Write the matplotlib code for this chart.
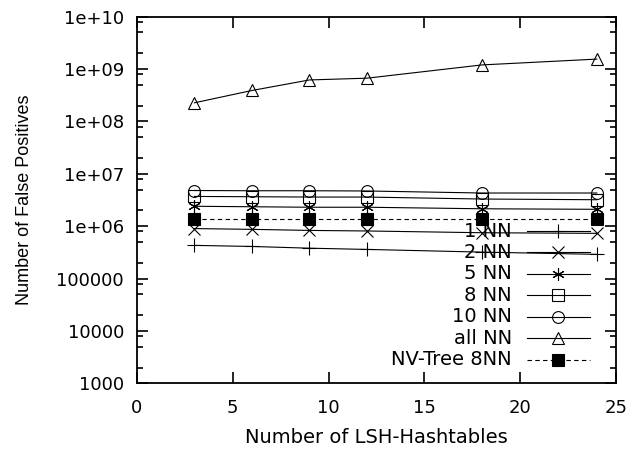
import matplotlib
matplotlib.use("Agg")
import matplotlib.pyplot as plt
from matplotlib.ticker import FixedLocator, LogLocator, NullFormatter, NullLocator

plt.rcParams['font.family'] = ['DejaVu Sans']

hashtables = [3, 6, 9, 12, 18, 24]
nn1 = [4.3e5, 4.1e5, 3.8e5, 3.6e5, 3.2e5, 2.9e5]
nn2 = [9.0e5, 8.7e5, 8.3e5, 8.1e5, 7.5e5, 7.3e5]
nn5 = [2.4e6, 2.35e6, 2.3e6, 2.3e6, 2.15e6, 2.1e6]
nn8 = [3.7e6, 3.65e6, 3.6e6, 3.6e6, 3.3e6, 3.2e6]
nn10 = [4.8e6, 4.75e6, 4.75e6, 4.7e6, 4.3e6, 4.3e6]
nn_all = [2.27e8, 3.9e8, 6.2e8, 6.7e8, 1.2e9, 1.55e9]
nvtree8 = [1.4e6, 1.4e6, 1.4e6, 1.4e6, 1.4e6, 1.4e6]

series_labels = ["1 NN", "2 NN", "5 NN", "8 NN", "10 NN", "all NN", "NV-Tree 8NN"]
x_ticks = [0, 5, 10, 15, 20, 25]
y_ticks = [1e3, 1e4, 1e5, 1e6, 1e7, 1e8, 1e9, 1e10]
y_tick_labels = ["1000", "10000", "100000", "1e+06", "1e+07", "1e+08", "1e+09", "1e+10"]

styles = [
    dict(marker='+', mfc='none', ms=10, ls='-'),
    dict(marker='x', mfc='none', ms=8.5, ls='-'),
    dict(marker=(6, 2, 0), mfc='none', ms=9, ls='-'),
    dict(marker='s', mfc='none', ms=8, ls='-'),
    dict(marker='o', mfc='none', ms=8.5, ls='-'),
    dict(marker='^', mfc='none', ms=9, ls='-'),
    dict(marker='s', mfc='black', ms=8, ls=(0, (4, 3))),
]
data = [nn1, nn2, nn5, nn8, nn10, nn_all, nvtree8]

fig = plt.figure(figsize=(6.37, 4.5), dpi=100)
ax = fig.add_axes([137/637, 1-383.3/450, (616-137)/637, (383.3-16.7)/450])

for vals, st in zip(data, styles):
    ax.plot(hashtables, vals, color='black', lw=0.8, mec='black', mew=0.8, **st)

ax.set_yscale('log')
ax.set_xlim(0, 25)
ax.set_ylim(1e3, 1e10)
ax.xaxis.set_major_locator(FixedLocator(x_ticks))
ax.xaxis.set_minor_locator(NullLocator())
ax.yaxis.set_major_locator(FixedLocator(y_ticks))
ax.set_yticklabels(y_tick_labels)
ax.yaxis.set_minor_locator(LogLocator(base=10, subs=[2, 5, 8], numticks=20))
ax.yaxis.set_minor_formatter(NullFormatter())

ax.tick_params(which='both', direction='in', top=True, right=True, labelsize=13, width=1.2)
ax.tick_params(axis='y', which='major', length=8, pad=9.4)
ax.tick_params(axis='x', which='major', length=8, pad=11.5)
ax.tick_params(which='minor', length=4.5)
for s in ax.spines.values():
    s.set_linewidth(1.3)

ax.set_xlabel("Number of LSH-Hashtables", fontsize=14)
ax.set_ylabel("Number of False Positives", fontsize=13, family=['Liberation Sans', 'DejaVu Sans'])
ax.xaxis.set_label_coords(0.5, -0.122)
ax.yaxis.set_label_coords(-0.218, 0.5)

# legend (gnuplot style: right aligned text, sample to the right)
y0 = 0.4154
dy = 0.0586
for i, (lab, st) in enumerate(zip(series_labels, styles)):
    yy = y0 - i * dy
    ax.text(0.783, yy, lab, transform=ax.transAxes, ha='right', va='center', fontsize=14)
    ls = st['ls']
    ax.plot([0.814, 0.946], [yy, yy], transform=ax.transAxes, color='black', lw=0.8, ls=ls)
    ax.plot([0.879], [yy], transform=ax.transAxes, color='black', mec='black', mew=0.8,
            marker=st['marker'], mfc=st['mfc'], ms=st['ms'], ls='none')

fig.savefig("out.png", dpi=100)
